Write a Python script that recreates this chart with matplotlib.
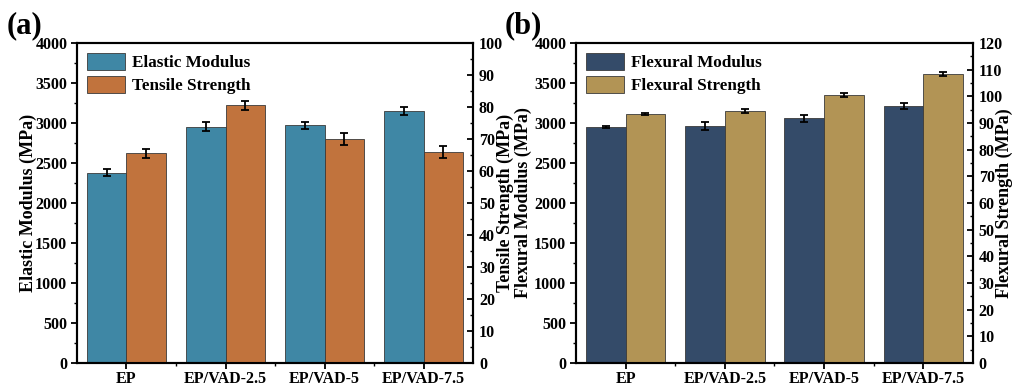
import matplotlib
matplotlib.use("Agg")
import matplotlib.pyplot as plt
import numpy as np
from matplotlib.ticker import MultipleLocator, FixedLocator

plt.rcParams['font.family'] = ['Liberation Serif', 'DejaVu Serif']
plt.rcParams['font.weight'] = 'bold'

categories = ["EP", "EP/VAD-2.5", "EP/VAD-5", "EP/VAD-7.5"]

elastic_modulus = [2380, 2955, 2970, 3150]
elastic_modulus_err = [45, 55, 48, 55]
tensile_strength = [65.5, 80.5, 70.1, 65.9]
tensile_strength_err = [1.5, 1.35, 1.9, 1.8]

flexural_modulus = [2946, 2962, 3058, 3212]
flexural_modulus_err = [12, 45, 42, 38]
flexural_strength = [93.4, 94.4, 100.4, 108.4]
flexural_strength_err = [0.3, 0.75, 0.75, 0.9]

c_blue = "#3F87A5"
c_orange = "#C1733D"
c_navy = "#344B69"
c_tan = "#B29455"

fig = plt.figure(figsize=(10.13, 3.86), dpi=100)
ax1 = fig.add_axes([0.076, 0.0596, 0.391, 0.829])
ax2 = fig.add_axes([0.5686, 0.0596, 0.3919, 0.829])

x = np.arange(len(categories))
w = 0.4


def panel(ax, v1, e1, v2, e2, col1, col2, lab1, lab2, ylab1, ylab2, rmax,
          lx, rx):
    ax.bar(x - w / 2, v1, width=w, color=col1, edgecolor="#3a3a3a", linewidth=0.6,
           label=lab1, zorder=2)
    ax.errorbar(x - w / 2, v1, yerr=e1, fmt="none", ecolor="black", elinewidth=1.3,
                capsize=3, capthick=1.3, zorder=3)
    axr = ax.twinx()
    axr.bar(x + w / 2, v2, width=w, color=col2, edgecolor="#3a3a3a", linewidth=0.6,
            label=lab2, zorder=2)
    axr.errorbar(x + w / 2, v2, yerr=e2, fmt="none", ecolor="black", elinewidth=1.3,
                 capsize=3, capthick=1.3, zorder=3)
    ax.set_xlim(-0.5, 3.5)
    ax.set_ylim(0, 4000)
    axr.set_ylim(0, rmax)
    ax.yaxis.set_major_locator(MultipleLocator(500))
    ax.yaxis.set_minor_locator(MultipleLocator(250))
    axr.yaxis.set_major_locator(MultipleLocator(10))
    axr.yaxis.set_minor_locator(MultipleLocator(5))
    ax.set_xticks(x)
    ax.set_xticklabels(categories)
    ax.xaxis.set_minor_locator(FixedLocator([0.5, 1.5, 2.5]))
    for s in list(ax.spines.values()) + list(axr.spines.values()):
        s.set_linewidth(1.5)
    ax.tick_params(which="major", direction="out", length=4.5, width=1.3,
                   labelsize=11.5, pad=2.5)
    ax.tick_params(which="minor", direction="out", length=2.5, width=1.0)
    axr.tick_params(which="major", direction="in", length=4.5, width=1.3,
                    labelsize=11.5, pad=4.2)
    axr.tick_params(which="minor", direction="in", length=2.5, width=1.0)
    ax.tick_params(axis="x", which="major", pad=1.5)
    for lbl in ax.get_xticklabels() + ax.get_yticklabels() + axr.get_yticklabels():
        lbl.set_fontweight("bold")
    ax.set_ylabel(ylab1, fontsize=13, fontweight="bold")
    axr.set_ylabel(ylab2, fontsize=13, fontweight="bold")
    ax.yaxis.set_label_coords(lx, 0.5)
    axr.yaxis.set_label_coords(rx, 0.5)
    h1, l1 = ax.get_legend_handles_labels()
    h2, l2 = axr.get_legend_handles_labels()
    axr.legend(h1 + h2, l1 + l2, loc="upper left", frameon=False,
               prop={"weight": "bold", "size": 12.3}, handlelength=2.2, handleheight=1.1,
               borderaxespad=0.35, labelspacing=0.3, handletextpad=0.4,
               borderpad=0.25)
    return axr


panel(ax1, elastic_modulus, elastic_modulus_err, tensile_strength, tensile_strength_err,
      c_blue, c_orange, "Elastic Modulus", "Tensile Strength",
      "Elastic Modulus (MPa)", "Tensile Strength (MPa)", 100, -0.101, 1.06)
panel(ax2, flexural_modulus, flexural_modulus_err, flexural_strength, flexural_strength_err,
      c_navy, c_tan, "Flexural Modulus", "Flexural Strength",
      "Flexural Modulus (MPa)", "Flexural Strength (MPa)", 120, -0.111, 1.058)

fig.text(0.007, 1 - 11 / 386, "(a)", fontsize=22, fontweight="bold", va="top")
fig.text(0.498, 1 - 11 / 386, "(b)", fontsize=22, fontweight="bold", va="top")

fig.savefig("out.png", dpi=100)
